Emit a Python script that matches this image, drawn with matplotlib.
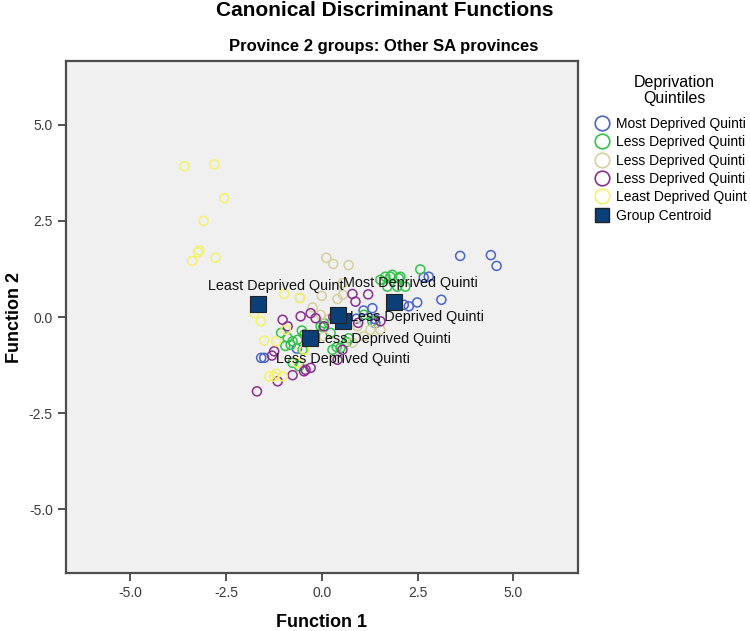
import matplotlib.pyplot as plt
from matplotlib.lines import Line2D

plt.rcParams['font.family'] = ['Liberation Sans', 'DejaVu Sans']

groups = ['Most Deprived Quinti', 'Less Deprived Quinti', 'Less Deprived Quinti',
          'Less Deprived Quinti', 'Least Deprived Quint']
colors = ['#4a63c8', '#33c24a', '#d6d09e', '#8a2f8e', '#f4f26a']

# function 1 / function 2 scores
most_x = [3.61, 4.41, 4.56, 2.66, 2.79, 3.12, 2.49, 2.14, 2.27, 1.32, 1.38, 1.40,
          1.09, 0.91, -1.58, -1.50, -0.65]
most_y = [1.59, 1.61, 1.33, 1.03, 1.05, 0.45, 0.38, 0.32, 0.28, 0.23, -0.05, -0.16,
          0.17, -0.04, -1.06, -1.06, -0.82]
less1_x = [2.57, 1.53, 1.79, 2.01, 2.18, 1.97, 1.71, 1.66, 1.84, 2.05, 1.10, 1.32,
           -0.89, -0.76, -0.63, -0.81, -0.03, 0.06, 0.23, 0.49, -0.76, -0.59, -1.06,
           0.28, -0.45, -0.20, 0.70, -0.95, -0.50, 0.04, 0.39, 0.65, -0.52]
less1_y = [1.24, 0.97, 1.05, 1.01, 0.79, 0.79, 0.79, 1.05, 1.10, 1.05, 0.06, -0.11,
           -0.54, -0.63, -0.59, -0.72, -0.24, -0.16, -0.41, -0.80, -1.19, -1.28, -0.41,
           -0.85, -0.45, -0.60, -0.55, -0.75, -0.85, -0.26, -0.78, -0.65, -0.35]
less2_x = [0.12, 0.30, 0.70, -0.57, -0.24, 0.41, 0.55, 0.54, -0.03, 0.93, 1.27, 1.53,
           0.06, 0.80, -0.29, 1.10, 0.20, 0.00]
less2_y = [1.54, 1.38, 1.35, 0.50, 0.25, 0.47, 0.58, 0.88, 0.06, -0.24, -0.33, -0.33,
           -0.50, -0.67, -0.46, -0.50, -0.05, 0.55]
less3_x = [-1.69, -1.15, -0.76, -0.46, -0.29, 0.41, 0.54, -1.24, -1.02, -0.89, -0.55,
           -0.29, -0.16, 0.06, 0.80, 0.88, 1.21, 1.53, -0.42, 0.30, 0.95, -1.30]
less3_y = [-1.93, -1.67, -1.51, -1.41, -1.32, -1.11, -0.85, -0.89, -0.07, -0.24, 0.02,
           0.10, -0.03, -0.24, 0.60, 0.40, 0.59, -0.11, -1.37, 0.00, -0.15, -1.00]
least_x = [-3.58, -2.80, -2.54, -3.08, -3.19, -3.23, -3.38, -2.77, -0.98, -0.57, -1.76,
           -1.59, -0.94, -1.50, -1.19, -1.37, -1.19, -1.02, -0.63, -0.46, -1.24]
least_y = [3.92, 3.97, 3.09, 2.50, 1.73, 1.68, 1.46, 1.54, 0.60, 0.49, 0.10,
           -0.11, -0.33, -0.61, -0.63, -1.54, -1.47, -1.54, -1.19, -0.85, -1.55]

xs = [most_x, less1_x, less2_x, less3_x, least_x]
ys = [most_y, less1_y, less2_y, less3_y, least_y]

cent_x = [1.88, 0.56, 0.43, -0.31, -1.65]
cent_y = [0.40, -0.11, 0.06, -0.54, 0.34]
# label offset in pixels and alignment for each centroid label
lab_off = [(17, 19, 'center'), (7, 4, 'left'), (5, -44, 'center'),
           (7, -1, 'left'), (17, 18, 'center')]

fig = plt.figure(figsize=(7.5, 6.31), dpi=100)
ax = fig.add_axes([0.088, 0.092, 0.682, 0.811])
ax.set_facecolor('#f0f0f0')

for i in range(5):
    ax.scatter(xs[i], ys[i], s=42, facecolors='none', edgecolors=colors[i],
               linewidths=1.1, zorder=2)

ax.scatter(cent_x, cent_y, s=120, marker='s', color='#0b3f78',
           edgecolors='#222222', linewidths=0.8, zorder=3)
for i in range(5):
    dx, dy, ha = lab_off[i]
    ax.annotate(groups[i], (cent_x[i], cent_y[i]), xytext=(dx, dy),
                textcoords='offset pixels', ha=ha, va='center', fontsize=10.4,
                color='#111111', zorder=4)

ax.set_xlim(-6.67, 6.67)
ax.set_ylim(-6.65, 6.65)
ticks = [-5.0, -2.5, 0.0, 2.5, 5.0]
ax.set_xticks(ticks)
ax.set_yticks(ticks)
ax.set_xticklabels(['%.1f' % t for t in ticks])
ax.set_yticklabels(['%.1f' % t for t in ticks])
ax.tick_params(direction='out', length=6, width=1.3, color='#444444',
               labelsize=10, labelcolor='#3a3a3a')
for sp in ax.spines.values():
    sp.set_color('#4d4d4d')
    sp.set_linewidth(1.6)

ax.set_xlabel('Function 1', fontsize=13, fontweight='bold', labelpad=10)
ax.set_ylabel('Function 2', fontsize=13, fontweight='bold', labelpad=4)

fig.text(385 / 750, 1 - 10 / 631, 'Canonical Discriminant Functions', ha='center',
         va='center', fontsize=15, fontweight='bold')
fig.text(384 / 750, 1 - 46 / 631, 'Province 2 groups: Other SA provinces',
         ha='center', va='center', fontsize=12, fontweight='bold')

# legend title
fig.text(674 / 750, 1 - 83 / 631, 'Deprivation', ha='center', va='center', fontsize=11.5)
fig.text(674 / 750, 1 - 99 / 631, 'Quintiles', ha='center', va='center', fontsize=11.5)

handles = [Line2D([], [], ls='none', marker='o', markersize=10.5, markerfacecolor='none',
                  markeredgecolor=c, markeredgewidth=1.2) for c in colors]
handles.append(Line2D([], [], ls='none', marker='s', markersize=10.5,
                      markerfacecolor='#0b3f78', markeredgecolor='#222222'))
fig.legend(handles, groups + ['Group Centroid'],
           loc='upper left', bbox_to_anchor=(593.5 / 750, 1 - 117 / 631),
           frameon=False, fontsize=10, labelspacing=0.31,
           handletextpad=0.42, handlelength=1.2, borderaxespad=0, borderpad=0)

fig.savefig('out.png', dpi=100)
